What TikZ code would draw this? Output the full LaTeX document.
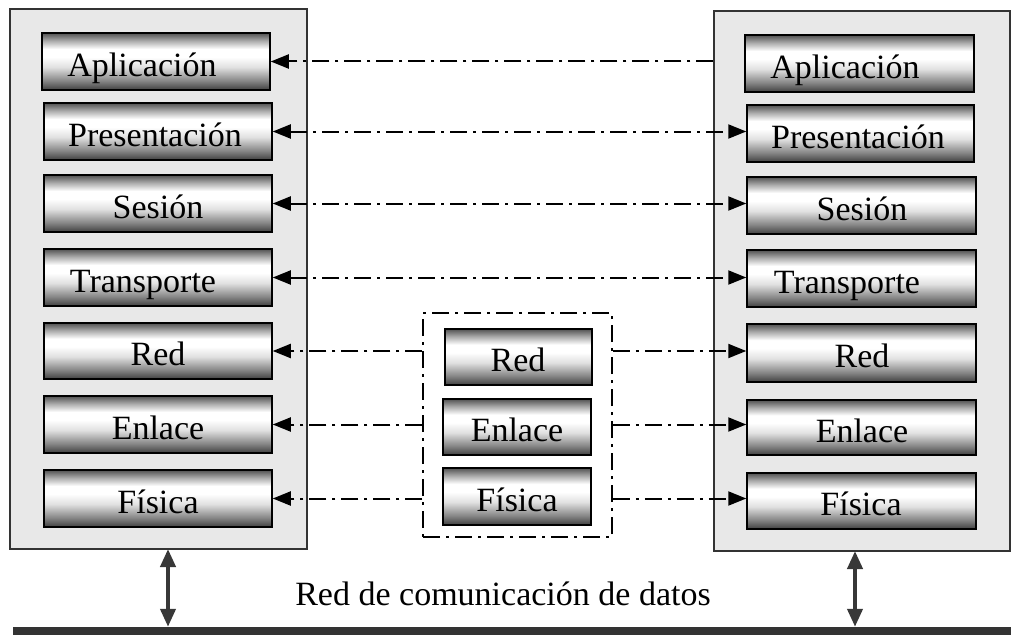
\documentclass[tikz,border=0pt]{standalone}
\usepackage{fontspec}
\setmainfont{Liberation Serif}
\usetikzlibrary{arrows.meta,calc}
\pgfdeclareverticalshading{layershade}{100bp}{color(0bp)=(black!75); color(25bp)=(black!75); color(33bp)=(black!48); color(45bp)=(black!12); color(54bp)=(white); color(61bp)=(white); color(68bp)=(black!32); color(75bp)=(black!68); color(100bp)=(black!68)}
\tikzset{
  outerbox/.style={draw=black!80, fill=black!9, line width=1.5pt, inner sep=0pt},
  layerbox/.style={draw=black, line width=1.5pt, shade, shading=layershade, inner sep=0pt},
  lbl/.style={anchor=base, font=\fontsize{34}{34}\selectfont, inner sep=0pt},
  dd/.style={line width=2pt, dash pattern=on 17pt off 6pt on 3pt off 6pt},
  tipone/.style={-{Triangle[length=18pt,width=14pt]}},
  tipboth/.style={{Triangle[length=18pt,width=14pt]}-{Triangle[length=18pt,width=14pt]}},
  varrow/.style={draw=black!78, line width=4pt, {Triangle[length=18pt,width=15pt]}-{Triangle[length=18pt,width=15pt]}},
}
\newcommand\mklayer[7]{%
  \node[layerbox, minimum width={(#4-#2)*1pt}, minimum height={(#5-#3)*1pt}] (#1) at ({(#2+#4)/2},{(#3+#5)/2}) {};
  \node[lbl] (#1t) at (#6,{(#3+#5)/2+14.5}) {#7};
}
\begin{document}
\begin{tikzpicture}[x=1pt,y=-1pt]
\useasboundingbox (0,0) rectangle (1011,634);
% outer boxes
\node[outerbox, minimum width=297pt, minimum height=540pt] (LOut) at (158.5,279) {};
\node[outerbox, minimum width=296pt, minimum height=540pt] (ROut) at (862,281) {};
% middle dash-dot box
\node[draw=black, dd, line width=1.5pt, minimum width=189pt, minimum height=224pt, inner sep=0pt] (Mid) at (517.5,425) {};
% left stack
\mklayer{L1}{42}{33}{270}{90}{142}{Aplicación}
\mklayer{L2}{44}{103}{272}{160}{155}{Presentación}
\mklayer{L3}{44}{175}{272}{232}{158}{Sesión}
\mklayer{L4}{44}{249}{272}{306}{143}{Transporte}
\mklayer{L5}{44}{323}{272}{379}{158}{Red}
\mklayer{L6}{44}{396}{272}{453}{158}{Enlace}
\mklayer{L7}{44}{470}{272}{527}{158}{Física}
% right stack
\mklayer{R1}{745}{35}{974}{92}{845}{Aplicación}
\mklayer{R2}{747}{105}{974}{162}{858}{Presentación}
\mklayer{R3}{747}{177}{976}{234}{862}{Sesión}
\mklayer{R4}{747}{250}{976}{307}{847}{Transporte}
\mklayer{R5}{747}{324}{976}{382}{862}{Red}
\mklayer{R6}{747}{400}{976}{455}{862}{Enlace}
\mklayer{R7}{747}{473}{976}{529}{861}{Física}
% middle stack
\mklayer{M5}{445}{329}{592}{385}{518}{Red}
\mklayer{M6}{443}{399}{591}{455}{517}{Enlace}
\mklayer{M7}{443}{468}{591}{525}{517}{Física}
% peer connectors
\draw[dd,tipone] (ROut.west |- L1.east) -- (L1.east);
\draw[dd,tipboth] (L2.east) -- (R2.west |- L2.east);
\draw[dd,tipboth] (L3.east) -- (R3.west |- L3.east);
\draw[dd,tipboth] (L4.east) -- (R4.west |- L4.east);
\foreach \r in {5,6,7}{
  \draw[dd,tipone] (Mid.west |- L\r.east) -- (L\r.east);
  \draw[dd,tipone] (Mid.east |- L\r.east) -- (R\r.west |- L\r.east);
}
% network bar
\node[fill=black!80, minimum width=998pt, minimum height=8pt, inner sep=0pt] (bar) at (512,631) {};
\coordinate (a1) at (168,549);
\coordinate (a2) at (855,551);
\draw[varrow] (a1) -- (a1 |- bar.north);
\draw[varrow] (a2) -- (a2 |- bar.north);
\node[lbl] (net) at (503,605) {Red de comunicación de datos};
\end{tikzpicture}
\end{document}
